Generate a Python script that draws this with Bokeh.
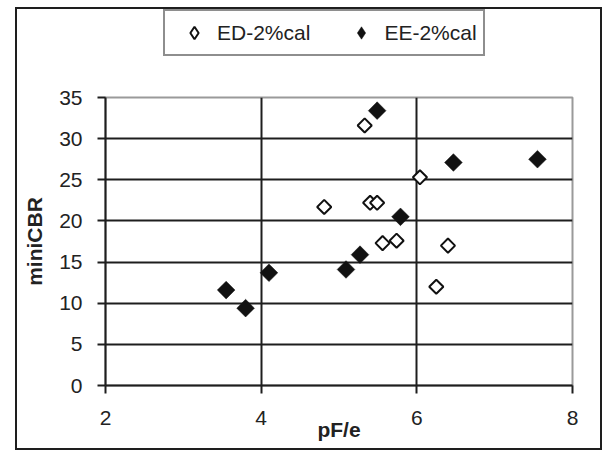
from bokeh.plotting import figure
from bokeh.models import Range1d, FixedTicker, Legend, LegendItem
from bokeh.layouts import column
from bokeh.embed import file_html
from bokeh.resources import INLINE
import math

# Data
ed_x = [4.81, 5.33, 5.40, 5.49, 5.56, 5.74, 6.04, 6.25, 6.40]
ed_y = [21.7, 31.6, 22.2, 22.2, 17.3, 17.6, 25.3, 12.0, 17.0]
ee_x = [3.55, 3.80, 4.10, 5.09, 5.27, 5.49, 5.79, 6.47, 7.55]
ee_y = [11.6, 9.4, 13.7, 14.1, 15.9, 33.4, 20.5, 27.1, 27.5]
x_ticks = [2, 4, 6, 8]
y_ticks = [0, 5, 10, 15, 20, 25, 30, 35]
series_names = ["ED-2%cal", "EE-2%cal"]

FONT = "Liberation Sans"
DARK = "#1e1e1e"
ang = math.pi / 4
ed_style = dict(fill_color="white", line_color="#111111", line_width=2)
ee_style = dict(fill_color="#111111", line_color="#111111", line_width=0.5)

# ---- main chart ----
p = figure(width=583, height=363, output_backend="svg", toolbar_location=None,
           x_range=Range1d(2, 8), y_range=Range1d(0, 35),
           min_border_left=88, min_border_right=28, min_border_top=12,
           min_border_bottom=63, background_fill_color="white",
           border_fill_color="white")

p.outline_line_color = "#9a9a9a"
p.outline_line_width = 2

p.xaxis.ticker = FixedTicker(ticks=x_ticks)
p.yaxis.ticker = FixedTicker(ticks=y_ticks)
p.xgrid.ticker = FixedTicker(ticks=[t for t in x_ticks if t < x_ticks[-1]])
p.ygrid.ticker = FixedTicker(ticks=[t for t in y_ticks if t < y_ticks[-1]])
for g in (p.xgrid, p.ygrid):
    g.grid_line_color = DARK
    g.grid_line_width = 2

for ax in (p.xaxis, p.yaxis):
    ax.axis_line_color = DARK
    ax.axis_line_width = 2
    ax.major_tick_line_color = DARK
    ax.major_tick_line_width = 2
    ax.major_tick_out = 8
    ax.major_tick_in = 0
    ax.minor_tick_out = 0
    ax.minor_tick_in = 0
    ax.major_label_text_font = FONT
    ax.major_label_text_font_size = "21px"
    ax.major_label_text_color = "#222222"
    ax.axis_label_text_font = FONT
    ax.axis_label_text_font_size = "21px"
    ax.axis_label_text_font_style = "bold"
    ax.axis_label_text_color = "#222222"

p.xaxis.axis_label = "pF/e"
p.yaxis.axis_label = "miniCBR"
p.xaxis.major_label_standoff = 17
p.yaxis.major_label_standoff = 15
p.xaxis.axis_label_standoff = -10
p.yaxis.axis_label_standoff = 10

p.scatter(ed_x, ed_y, marker="square", angle=ang, size=10, **ed_style)
p.scatter(ee_x, ee_y, marker="square", angle=ang, size=12.5, **ee_style)

# ---- legend strip above the chart ----
lg = figure(width=583, height=76, output_backend="svg", toolbar_location=None,
            x_range=Range1d(0, 1), y_range=Range1d(0, 1),
            x_axis_location=None, y_axis_location=None,
            min_border=0, background_fill_color="white",
            border_fill_color="white")
lg.outline_line_color = None
lg.xgrid.visible = False
lg.ygrid.visible = False
l_ed = lg.scatter(ed_x, ed_y, marker="diamond", size=12, **ed_style)
l_ee = lg.scatter(ee_x, ee_y, marker="diamond", size=12, **ee_style)

legend = Legend(items=[LegendItem(label=series_names[0], renderers=[l_ed]),
                       LegendItem(label=series_names[1], renderers=[l_ee])],
                orientation="horizontal", location=(58, 29),
                padding=6, spacing=28, glyph_width=46, glyph_height=31,
                label_standoff=0, margin=0,
                label_text_font=FONT, label_text_font_size="21px",
                label_text_color="#222222",
                border_line_color=DARK, border_line_width=2,
                background_fill_color="white", background_fill_alpha=1)
lg.add_layout(legend, "center")

layout = column(lg, p, spacing=0)
layout.styles = {"border": "2px solid #1e1e1e", "margin-left": "15px", "margin-top": "7px"}

open("out.html", "w").write(file_html(layout, INLINE))
